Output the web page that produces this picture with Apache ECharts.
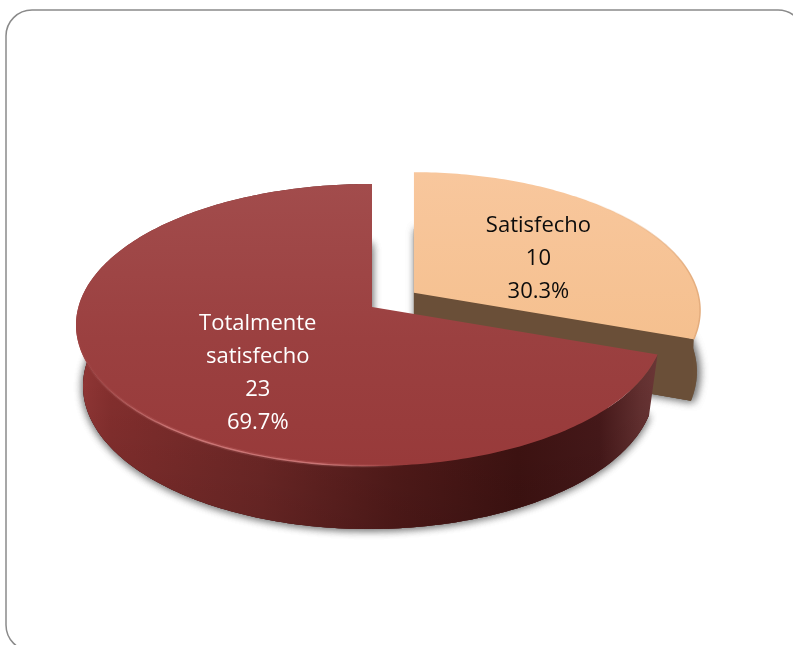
<!DOCTYPE html>
<html>
<head>
<meta charset="utf-8">
<style>html,body{margin:0;padding:0;background:#fff;overflow:hidden}#c{width:793px;height:645px}</style>
<script src="https://cdn.jsdelivr.net/npm/echarts@6/dist/echarts.min.js"></script>
</head>
<body>
<div id="c"></div>
<script>
const categories = ['Satisfecho', 'Totalmente\nsatisfecho'];
const counts = [10, 23];

const total = counts.reduce((a, b) => a + b, 0);
const TOP = {cx: 370, cy: 325, rx: 294, ry: 141, ax: 372, ay: 307};
const BASE = {cx: 369, cy: 386, rx: 286, ry: 143, ax: 372, ay: 367};
const explode = [0.175, 0];
const sliceScale = [0.98, 1];
const baseScale = [1.0, 1];
const labelFrac = [[0.52, 0.42], [0.477, 0.815]];
const G = echarts.graphic;

function rayPoint(E, th, off, s) {
  const dx = Math.sin(th) * E.rx, dy = -Math.cos(th) * E.ry;
  const ax = E.ax - E.cx, ay = E.ay - E.cy;
  const A = dx * dx / (E.rx * E.rx) + dy * dy / (E.ry * E.ry);
  const B = 2 * (ax * dx / (E.rx * E.rx) + ay * dy / (E.ry * E.ry));
  const C = ax * ax / (E.rx * E.rx) + ay * ay / (E.ry * E.ry) - 1;
  const t = (-B + Math.sqrt(B * B - 4 * A * C)) / (2 * A);
  return [E.ax + off[0] + dx * t * s, E.ay + off[1] + dy * t * s];
}
function arc(E, a0, a1, off, s) {
  const pts = [], n = Math.ceil(Math.abs(a1 - a0) / (Math.PI / 180));
  for (let i = 0; i <= n; i++) pts.push(rayPoint(E, a0 + (a1 - a0) * i / n, off, s));
  return pts;
}
function poly(points, style) {
  return {type: 'polygon', shape: {points}, style, silent: true};
}
function hgrad(stops) {
  return new G.LinearGradient(0, 0, 1, 0, stops.map(s => ({offset: s[0], color: s[1]})));
}
function vgrad(stops) {
  return new G.LinearGradient(0, 0, 0, 1, stops.map(s => ({offset: s[0], color: s[1]})));
}

function renderSlice(params, api) {
  const i = params.dataIndex;
  const value = api.value(0);
  const before = counts.slice(0, i).reduce((a, b) => a + b, 0);
  const a0 = before / total * Math.PI * 2;
  const a1 = (before + value) / total * Math.PI * 2;
  const mid = (a0 + a1) / 2;
  const off = [Math.sin(mid) * TOP.rx * explode[i], -Math.cos(mid) * TOP.ry * explode[i]];
  const s = sliceScale[i];
  const topArc = arc(TOP, a0, a1, off, s);
  const baseArc = arc(BASE, a0, a1, off, baseScale[i]);
  const apexT = [TOP.ax + off[0], TOP.ay + off[1]];
  const apexB = [BASE.ax + off[0], BASE.ay + off[1]];
  const children = [];

  // ground shadow of the slice foot (stacked to deepen it)
  for (let k = 0; k < 2; k++) {
    children.push(poly([apexB].concat(baseArc), {
      fill: i === 0 ? '#6b5038' : '#4a1716',
      shadowBlur: 8, shadowColor: 'rgba(110,110,110,0.8)', shadowOffsetX: i === 0 ? 2 : 0, shadowOffsetY: 1
    }));
  }

  if (i === 0) {
    const e = topArc[topArc.length - 1], f = baseArc[baseArc.length - 1];
    children.push(poly([apexT, e, f, apexB], {fill: '#6a4f38'}));
    children.push(poly([apexT].concat(topArc), {
      fill: vgrad([[0, '#f8c79d'], [1, '#f5c08f']])
    }));
    children.push({type: 'polyline', shape: {points: topArc.slice(40)}, silent: true, style: {
      fill: null, lineWidth: 1.5,
      stroke: vgrad([[0, 'rgba(227,171,123,0)'], [0.5, 'rgba(227,171,123,0.9)'], [1, 'rgba(227,171,123,1)']])
    }});
  } else {
    const wall = topArc.concat(baseArc.slice().reverse());
    children.push(poly(wall, {
      fill: hgrad([[0, '#923837'], [0.06, '#842f2e'], [0.32, '#6f2827'], [0.55, '#531b1a'],
                   [0.76, '#401312'], [0.9, '#47191a'], [0.97, '#633030'], [1, '#6a3636']])
    }));
    children.push(poly(wall, {
      fill: vgrad([[0.55, 'rgba(0,0,0,0)'], [1, 'rgba(0,0,0,0.12)']])
    }));
    children.push(poly([apexT].concat(topArc), {
      fill: vgrad([[0, '#a24c4c'], [0.55, '#9b4040'], [1, '#983a3a']])
    }));
    const rim = arc(TOP, Math.PI * 0.97, Math.PI * 1.5, off, s);
    [[4, 0.15], [1.4, 0.7]].forEach(function (w) {
      children.push({type: 'polyline', shape: {points: rim}, silent: true, style: {
        fill: null, lineWidth: w[0],
        stroke: new G.LinearGradient(1, 0, 0, 0, [
          {offset: 0, color: 'rgba(226,140,140,0)'},
          {offset: 0.25, color: 'rgba(226,140,140,' + w[1] + ')'},
          {offset: 0.7, color: 'rgba(226,140,140,' + w[1] + ')'},
          {offset: 1, color: 'rgba(226,140,140,0)'}])
      }});
    });
  }

  const lx = apexT[0] + Math.sin(mid) * TOP.rx * labelFrac[i][0];
  const ly = apexT[1] - Math.cos(mid) * TOP.ry * labelFrac[i][1];
  children.push({
    type: 'text', silent: true, z2: 10,
    style: {
      x: lx, y: ly, align: 'center', verticalAlign: 'middle',
      text: categories[i] + '\n' + value + '\n' + (value / total * 100).toFixed(1) + '%',
      fontFamily: 'Open Sans', fontSize: 22, lineHeight: 33,
      fill: i === 0 ? '#0c0c0c' : '#ffffff'
    }
  });
  return {type: 'group', children};
}

const chart = echarts.init(document.getElementById('c'), null, {renderer: 'canvas'});
chart.setOption({
  animation: false,
  backgroundColor: '#ffffff',
  graphic: [{
    type: 'rect', silent: true, z: -1,
    shape: {x: 6, y: 10, width: 798, height: 641, r: 26},
    style: {fill: '#fff', stroke: '#8a8a8a', lineWidth: 1.5}
  }],
  series: [{
    type: 'custom',
    coordinateSystem: 'none',
    renderItem: renderSlice,
    data: counts.map((v, i) => ({name: categories[i], value: [v]}))
  }]
});
</script>
</body>
</html>
